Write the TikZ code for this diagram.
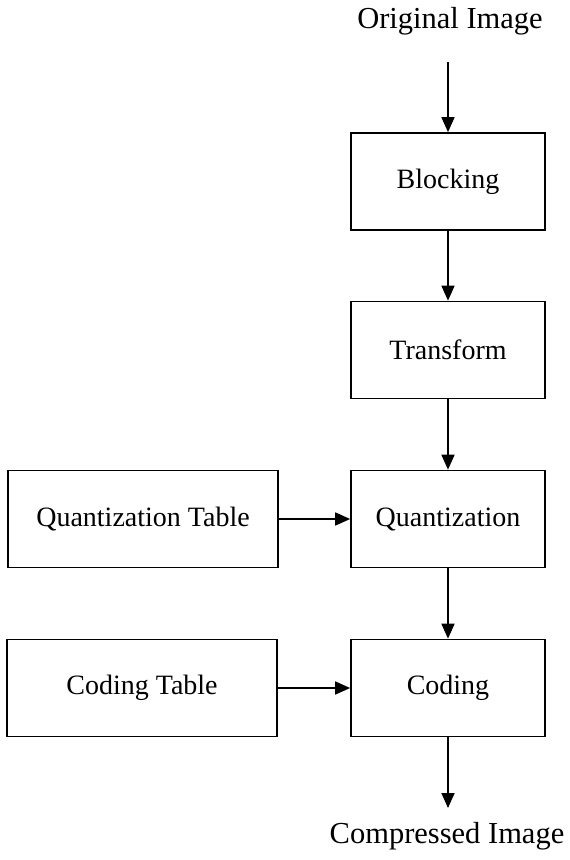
\documentclass[tikz,border=0pt]{standalone}
\usepackage{fontspec}
\setmainfont{Liberation Serif}
\usetikzlibrary{arrows.meta}
\begin{document}
\begin{tikzpicture}[x=1pt,y=1pt,
  box/.style={draw, line width=1.7pt, minimum width=194pt, minimum height=97pt, inner sep=0pt,
              font=\fontsize{28}{32}\selectfont},
  widebox/.style={box, minimum width=270pt},
  outer/.style={anchor=base, inner sep=0pt, font=\fontsize{30.5}{36}\selectfont},
  arr/.style={line width=1.7pt, -{Triangle[length=15pt,width=13pt]}}]
\useasboundingbox (0,0) rectangle (570,-860);
\node[outer] (orig) at (450,-28) {Original Image};
\coordinate (start) at (448,-62);
\node[box] (block) at (448,-181.5) {Blocking};
\node[box] (trans) at (448,-350) {Transform};
\node[box] (quant) at (448,-519) {Quantization};
\node[box] (code) at (448,-688) {Coding};
\node[widebox] (qt) at (143,-519) {Quantization Table};
\node[widebox] (ct) at (142,-688) {Coding Table};
\coordinate (finish) at (448,-808);
\node[outer] (comp) at (447,-843) {Compressed Image};
\draw[arr] (start) -- (block);
\draw[arr] (block) -- (trans);
\draw[arr] (trans) -- (quant);
\draw[arr] (quant) -- (code);
\draw[arr] (code) -- (finish);
\draw[arr] (qt) -- (quant);
\draw[arr] (ct) -- (code);
\end{tikzpicture}
\end{document}
